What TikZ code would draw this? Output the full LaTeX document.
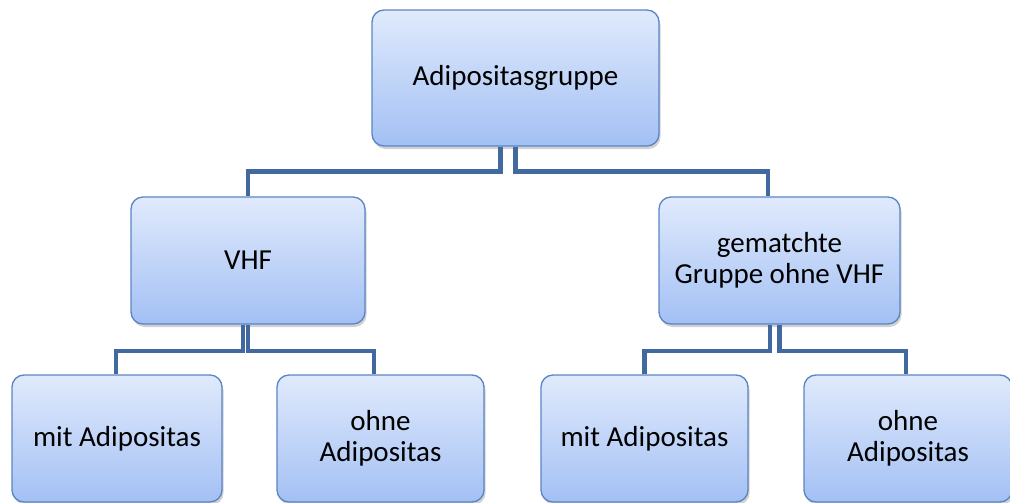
\documentclass[tikz,border=0pt]{standalone}
\usepackage{fontspec}
\setmainfont{Carlito}
\usetikzlibrary{shadows}
\definecolor{boxtop}{HTML}{E0EAFC}
\definecolor{boxbot}{HTML}{A3C0F4}
\definecolor{boxline}{HTML}{5A85C4}
\definecolor{conn}{HTML}{41699F}
\begin{document}
\begin{tikzpicture}[x=1pt,y=-1pt,
  box/.style={draw=boxline, line width=1.3pt, rounded corners=12pt,
    top color=boxtop, bottom color=boxbot, align=center,
    font=\fontsize{29}{31}\selectfont, inner sep=0pt,
    drop shadow={opacity=0.18, shadow xshift=1.5pt, shadow yshift=-3pt, fill=black}},
  link/.style={draw=conn, line width=4.5pt}]
\useasboundingbox (0,0) rectangle (1010,503);
\node[box, minimum width=287pt, minimum height=136pt] (top) at (515.5,78) {Adipositasgruppe};
\node[box, minimum width=234pt, minimum height=127pt] (vhf) at (248,260.5) {VHF};
\node[box, minimum width=241pt, minimum height=127pt] (gem) at (779.5,260.5) {gematchte\\Gruppe ohne VHF};
\node[box, minimum width=210pt, minimum height=127pt] (mitL) at (117,438.5) {mit Adipositas};
\node[box, minimum width=207pt, minimum height=127pt] (ohneL) at (380.5,438.5) {ohne\\Adipositas};
\node[box, minimum width=207pt, minimum height=127pt] (mitR) at (644.5,438.5) {mit Adipositas};
\node[box, minimum width=208pt, minimum height=127pt] (ohneR) at (908,438.5) {ohne\\Adipositas};

\draw[link] ([xshift=-15pt]top.south) -- ++(0,25) -| (vhf.north);
\draw[link] (top.south) -- ++(0,25) -| ([xshift=-11.5pt]gem.north);
\draw[link] ([xshift=-5pt]vhf.south) -- ++(0,26.5) -| ([xshift=-1pt]mitL.north);
\draw[link] (vhf.south) -- ++(0,26.5) -| ([xshift=-6.5pt]ohneL.north);
\draw[link] ([xshift=-9.5pt]gem.south) -- ++(0,26.5) -| (mitR.north);
\draw[link] (gem.south) -- ++(0,26.5) -| ([xshift=-2pt]ohneR.north);
\end{tikzpicture}
\end{document}
